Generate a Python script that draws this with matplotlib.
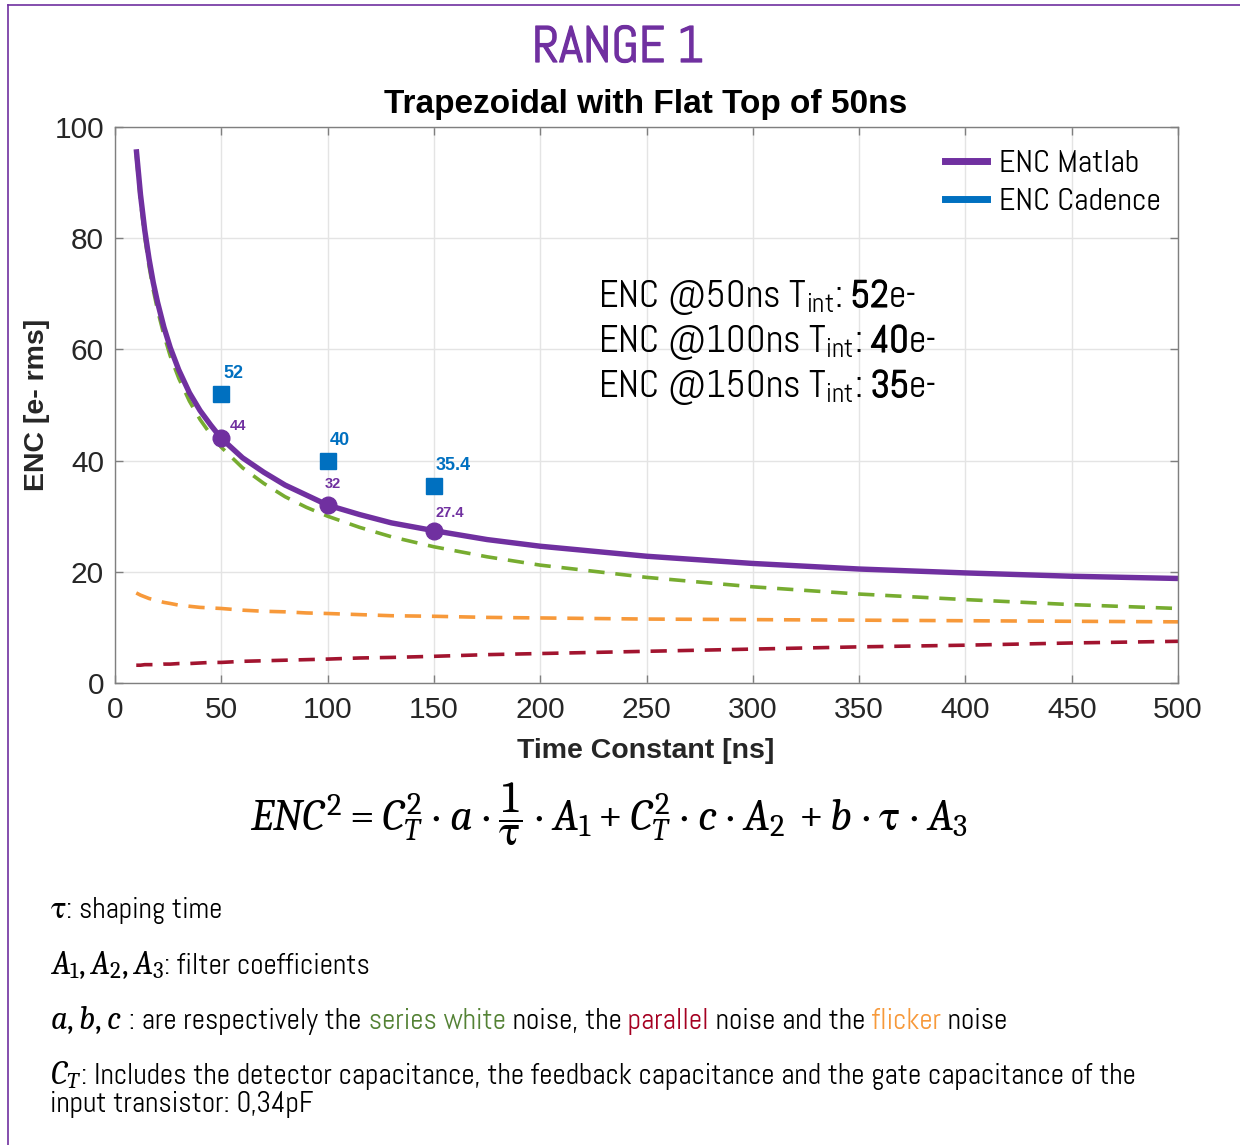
import matplotlib
matplotlib.use('Agg')
import matplotlib.pyplot as plt
from matplotlib import font_manager as fm
from matplotlib.lines import Line2D
import matplotlib.patheffects as pe

# ENC contributions vs shaping time (trapezoidal, 50 ns flat top)
tau = [10, 12, 14, 16, 18, 20, 23, 26, 30, 35, 40, 45, 50, 60, 70, 80, 90, 100,
       115, 130, 150, 175, 200, 250, 300, 350, 400, 450, 500]
enc_total = [96.0, 87.8, 81.4, 76.3, 72.0, 68.5, 64.0, 60.3, 56.3, 52.2, 49.0, 46.4, 44.0,
             40.5, 37.9, 35.6, 33.8, 32.0, 30.3, 28.8, 27.4, 25.8, 24.6, 22.8, 21.5,
             20.5, 19.8, 19.2, 18.8]
enc_series = [94.9, 86.6, 80.2, 75.0, 70.7, 67.1, 62.6, 58.8, 54.8, 50.7, 47.4, 44.7, 42.4,
              38.7, 35.9, 33.5, 31.6, 30.0, 28.0, 26.3, 24.5, 22.7, 21.2, 19.0, 17.3,
              16.0, 15.0, 14.1, 13.4]
enc_flicker = [16.2, 15.8, 15.5, 15.2, 15.0, 14.8, 14.5, 14.3, 14.0, 13.8, 13.6, 13.5, 13.4,
               13.1, 12.9, 12.8, 12.6, 12.5, 12.3, 12.1, 12.0, 11.8, 11.7, 11.5, 11.4,
               11.3, 11.2, 11.1, 11.0]
enc_parallel = [3.2, 3.2, 3.3, 3.3, 3.3, 3.3, 3.4, 3.4, 3.5, 3.5, 3.6, 3.7, 3.7,
                3.9, 4.0, 4.1, 4.2, 4.3, 4.5, 4.6, 4.8, 5.1, 5.3, 5.7, 6.1,
                6.5, 6.8, 7.2, 7.5]

tau_pts = [50, 100, 150]
matlab_pts = [44, 32, 27.4]
cadence_pts = [52, 40, 35.4]
summary_ns = [50, 100, 150]
summary_enc = [52, 40, 35]

PURPLE = '#7030A0'
BLUE = '#0070C0'
GREEN = '#77AC30'
ORANGE = '#F7993A'
RED = '#A2142F'

installed = {f.name for f in fm.fontManager.ttflist}
THIN = [f for f in ['Abel', 'Liberation Sans Narrow', 'Liberation Sans', 'DejaVu Sans']
        if f in installed] or ['DejaVu Sans']
ARIAL = ['Liberation Sans', 'DejaVu Sans']
if 'Caladea' in installed:
    plt.rcParams['mathtext.it'] = 'Caladea:italic'
    plt.rcParams['mathtext.rm'] = 'Caladea'
    plt.rcParams['mathtext.fallback'] = 'stix'
    MATH = 'custom'
else:
    MATH = 'stix'

W, H = 1240, 1145
fig = plt.figure(figsize=(W / 100, H / 100), dpi=100)


def px(x, y):
    # pixel position measured from the top-left corner -> figure fraction
    return x / W, 1 - y / H


def put_pieces(x, y, pieces, size):
    # draw text fragments one after another on the same baseline;
    # a piece is (text, colour, heavy) or (text, colour, heavy, own size)
    r = fig.canvas.get_renderer()
    for p in pieces:
        s, color, heavy = p[:3]
        fs = p[3] if len(p) > 3 else size
        t = fig.text(*px(x, y), s, color=color, fontsize=fs, family=THIN,
                     math_fontfamily=MATH, va='baseline', ha='left')
        if heavy:
            t.set_path_effects([pe.withStroke(linewidth=0.8, foreground=color)])
        x += t.get_window_extent(r).width


# frame lines
fig.add_artist(Line2D([8 / W, 8 / W], [0, 1 - 5 / H], transform=fig.transFigure,
                      color=PURPLE, lw=1.2))
fig.add_artist(Line2D([8 / W, 1], [1 - 5 / H, 1 - 5 / H], transform=fig.transFigure,
                      color=PURPLE, lw=1.2))

ax = fig.add_axes([115 / W, 1 - 683 / H, 1063 / W, 556 / H])
ax.plot(tau, enc_series, color=GREEN, lw=2.6, dashes=(4.5, 3))
ax.plot(tau, enc_flicker, color=ORANGE, lw=2.6, dashes=(4.5, 3))
ax.plot(tau, enc_parallel, color=RED, lw=2.6, dashes=(4.5, 3))
ax.plot(tau, enc_total, color=PURPLE, lw=3.9, solid_capstyle='butt')
ax.plot(tau_pts, matlab_pts, 'o', color=PURPLE, ms=12)
ax.plot(tau_pts, cadence_pts, 's', color=BLUE, ms=12)

matlab_off = [(6, 4), (-2, 10), (1, 8)]
for xv, yv, off in zip(tau_pts, matlab_pts, matlab_off):
    ax.annotate(f'{yv:g}', (xv, yv), xytext=off, textcoords='offset points',
                color=PURPLE, fontsize=10.5, fontweight='bold', family=ARIAL,
                ha='left', va='bottom')
for xv, yv in zip(tau_pts, cadence_pts):
    ax.annotate(f'{yv:g}', (xv, yv), xytext=(1.5, 8.5), textcoords='offset points',
                color=BLUE, fontsize=13, fontweight='bold', family=ARIAL,
                ha='left', va='bottom')

ax.set_xlim(0, 500)
ax.set_ylim(0, 100)
ax.set_xticks(range(0, 501, 50))
ax.set_yticks(range(0, 101, 20))
ax.grid(color='#e4e4e4', lw=1)
ax.set_axisbelow(True)
ax.tick_params(direction='in', top=True, right=True, length=6, width=1,
               color='#7f7f7f', labelsize=21.5, labelcolor='#262626')
ax.tick_params(axis='x', pad=9)
ax.tick_params(axis='y', pad=8)
for lab in ax.get_xticklabels() + ax.get_yticklabels():
    lab.set_family(ARIAL)
for sp in ax.spines.values():
    sp.set_color('#7f7f7f')
    sp.set_linewidth(1)

handles = [Line2D([], [], color=PURPLE, lw=5), Line2D([], [], color=BLUE, lw=5)]
ax.legend(handles, ['ENC Matlab', 'ENC Cadence'], loc='upper left',
          bbox_to_anchor=((945 - 115) / 1063, (683 - 150) / 556), frameon=False,
          borderpad=0, borderaxespad=0, handlelength=1.3, handletextpad=0.4,
          labelspacing=0.3, prop={'family': THIN, 'size': 23})

# summary values inside the plot
for i, (ns, val) in enumerate(zip(summary_ns, summary_enc)):
    put_pieces(598, 307 + 45 * i,
               [(f'ENC @{ns}ns T$_{{\\mathregular{{int}}}}$:', 'black', False),
                (f' {val}', 'black', True),
                ('e-', 'black', False)], 27.5)

# titles and axis labels
fig.text(*px(618, 62), 'RANGE 1', color=PURPLE, fontsize=37, family=THIN,
         ha='center', va='baseline',
         path_effects=[pe.withStroke(linewidth=0.9, foreground=PURPLE)])
fig.text(*px(646, 113), 'Trapezoidal with Flat Top of 50ns', fontsize=24,
         fontweight='bold', family=ARIAL, ha='center', va='baseline')
fig.text(*px(646, 758), 'Time Constant [ns]', fontsize=20.5, fontweight='bold',
         family=ARIAL, ha='center', va='baseline', color='#262626')
fig.text(*px(37, 405), 'ENC [e- rms]', fontsize=20.5, fontweight='bold',
         family=ARIAL, ha='center', va='center', rotation=90, color='#262626')

# noise model
fig.text(*px(609, 830),
         r'$ENC^2 = C_T^2 \cdot a \cdot \dfrac{1}{\tau} \cdot A_1 + C_T^2 \cdot c \cdot A_2 \,+b \cdot \tau \cdot A_3$',
         fontsize=32, math_fontfamily=MATH, ha='center', va='baseline')

MS = 23.5  # symbols are set a little larger than the prose
put_pieces(50, 918, [(r'$\tau$', 'black', False, MS), (': shaping time', 'black', False)], 21)
put_pieces(50, 974, [(r'$A_1, A_2, A_3$', 'black', False, MS),
                     (': filter coefficients', 'black', False)], 21)
put_pieces(50, 1029, [(r'$a, b, c$', 'black', False, MS),
                      (' : are respectively the', 'black', False),
                      (' series white', '#548235', False),
                      (' noise, the', 'black', False),
                      (' parallel', '#A50021', False),
                      (' noise and the', 'black', False),
                      (' flicker', ORANGE, False),
                      (' noise', 'black', False)], 21)
put_pieces(50, 1084, [(r'$C_T$', 'black', False, MS),
                      (': Includes the detector capacitance, the feedback capacitance '
                       'and the gate capacitance of the', 'black', False)], 21)
put_pieces(50, 1112, [('input transistor: 0,34pF', 'black', False)], 21)

fig.savefig('out.png', dpi=100)
